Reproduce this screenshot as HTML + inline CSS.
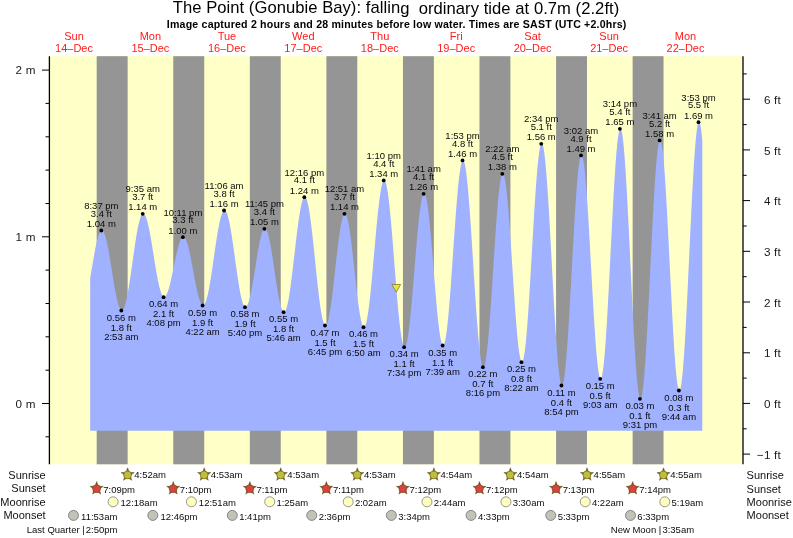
<!DOCTYPE html>
<html lang="en"><head><meta charset="utf-8"><title>The Point (Gonubie Bay) tide chart</title>
<style>
html,body{margin:0;padding:0;background:#fff;}
body{width:793px;height:538px;overflow:hidden;}
svg{display:block;font-family:"Liberation Sans",Arial,Helvetica,sans-serif;}
.t{font-size:16.6px;fill:#000;text-anchor:middle;}
.s{font-size:10.6px;font-weight:bold;fill:#000;text-anchor:middle;}
.d{font-size:11px;fill:#ff1a1a;text-anchor:middle;}
.ax{font-size:11.7px;fill:#1a1a1a;letter-spacing:0.2px;}
.l{font-size:9.5px;fill:#0a0a0a;text-anchor:middle;}
.r{font-size:11px;fill:#111;}
.k{font-size:9.5px;fill:#0c0c0c;}
</style></head><body>
<svg width="793" height="538" viewBox="0 0 793 538">
<rect x="0" y="0" width="793" height="538" fill="#fff"/>
<rect x="50" y="56.2" width="692.5" height="408.1" fill="#ffffc8"/>
<g fill="#959595">
<rect x="96.67" y="56.2" width="30.98" height="408.1"/>
<rect x="173.25" y="56.2" width="30.98" height="408.1"/>
<rect x="249.83" y="56.2" width="30.93" height="408.1"/>
<rect x="326.37" y="56.2" width="30.93" height="408.1"/>
<rect x="402.95" y="56.2" width="30.93" height="408.1"/>
<rect x="479.48" y="56.2" width="30.93" height="408.1"/>
<rect x="556.07" y="56.2" width="30.93" height="408.1"/>
<rect x="632.65" y="56.2" width="30.88" height="408.1"/>
</g>
<path d="M90.18,430.80 L90.18,277.84 90.62,275.35 91.06,272.83 91.49,270.27 91.93,267.70 92.37,265.13 92.81,262.57 93.24,260.02 93.68,257.52 94.12,255.05 94.55,252.65 94.99,250.32 95.43,248.06 95.87,245.91 96.30,243.85 96.74,241.91 97.18,240.09 97.61,238.41 98.05,236.86 98.49,235.47 98.93,234.23 99.36,233.15 99.80,232.23 100.24,231.49 100.68,230.92 101.11,230.53 101.55,230.32 101.99,230.29 102.42,230.45 102.86,230.79 103.30,231.33 103.74,232.04 104.17,232.94 104.61,234.01 105.05,235.26 105.49,236.67 105.92,238.23 106.36,239.95 106.80,241.82 107.23,243.81 107.67,245.94 108.11,248.17 108.55,250.52 108.98,252.95 109.42,255.47 109.86,258.06 110.29,260.70 110.73,263.39 111.17,266.12 111.61,268.86 112.04,271.61 112.48,274.35 112.92,277.08 113.36,279.77 113.79,282.41 114.23,285.00 114.67,287.53 115.10,289.96 115.54,292.31 115.98,294.55 116.42,296.68 116.85,298.68 117.29,300.55 117.73,302.28 118.16,303.85 118.60,305.27 119.04,306.52 119.48,307.60 119.91,308.50 120.35,309.23 120.79,309.77 121.23,310.12 121.66,310.28 122.10,310.26 122.54,310.03 122.97,309.61 123.41,308.99 123.85,308.17 124.29,307.17 124.72,305.98 125.16,304.60 125.60,303.05 126.03,301.33 126.47,299.45 126.91,297.41 127.35,295.22 127.78,292.90 128.22,290.45 128.66,287.88 129.10,285.21 129.53,282.44 129.97,279.58 130.41,276.65 130.84,273.66 131.28,270.63 131.72,267.55 132.16,264.46 132.59,261.35 133.03,258.24 133.47,255.16 133.91,252.09 134.34,249.07 134.78,246.11 135.22,243.21 135.65,240.38 136.09,237.65 136.53,235.01 136.97,232.49 137.40,230.09 137.84,227.82 138.28,225.69 138.71,223.71 139.15,221.89 139.59,220.23 140.03,218.75 140.46,217.45 140.90,216.33 141.34,215.39 141.78,214.66 142.21,214.11 142.65,213.76 143.09,213.62 143.52,213.66 143.96,213.89 144.40,214.30 144.84,214.88 145.27,215.64 145.71,216.57 146.15,217.67 146.58,218.93 147.02,220.34 147.46,221.91 147.90,223.62 148.33,225.47 148.77,227.45 149.21,229.55 149.65,231.76 150.08,234.07 150.52,236.47 150.96,238.96 151.39,241.51 151.83,244.13 152.27,246.79 152.71,249.49 153.14,252.21 153.58,254.95 154.02,257.69 154.45,260.42 154.89,263.13 155.33,265.80 155.77,268.43 156.20,271.00 156.64,273.50 157.08,275.92 157.52,278.26 157.95,280.50 158.39,282.62 158.83,284.63 159.26,286.51 159.70,288.26 160.14,289.86 160.58,291.32 161.01,292.61 161.45,293.75 161.89,294.72 162.33,295.52 162.76,296.15 163.20,296.60 163.64,296.87 164.07,296.96 164.51,296.89 164.95,296.66 165.39,296.28 165.82,295.76 166.26,295.09 166.70,294.27 167.13,293.32 167.57,292.23 168.01,291.02 168.45,289.68 168.88,288.23 169.32,286.67 169.76,285.01 170.20,283.26 170.63,281.43 171.07,279.52 171.51,277.55 171.94,275.53 172.38,273.46 172.82,271.36 173.26,269.24 173.69,267.10 174.13,264.97 174.57,262.84 175.00,260.74 175.44,258.67 175.88,256.64 176.32,254.66 176.75,252.74 177.19,250.90 177.63,249.14 178.07,247.46 178.50,245.89 178.94,244.42 179.38,243.07 179.81,241.84 180.25,240.74 180.69,239.76 181.13,238.93 181.56,238.24 182.00,237.69 182.44,237.29 182.87,237.05 183.31,236.95 183.75,237.01 184.19,237.24 184.62,237.63 185.06,238.18 185.50,238.90 185.94,239.77 186.37,240.79 186.81,241.96 187.25,243.27 187.68,244.71 188.12,246.29 188.56,247.98 189.00,249.79 189.43,251.70 189.87,253.70 190.31,255.79 190.74,257.95 191.18,260.18 191.62,262.46 192.06,264.78 192.49,267.13 192.93,269.51 193.37,271.89 193.81,274.26 194.24,276.62 194.68,278.96 195.12,281.26 195.55,283.50 195.99,285.69 196.43,287.81 196.87,289.84 197.30,291.79 197.74,293.63 198.18,295.37 198.62,296.98 199.05,298.48 199.49,299.84 199.93,301.06 200.36,302.13 200.80,303.06 201.24,303.83 201.68,304.44 202.11,304.89 202.55,305.17 202.99,305.29 203.42,305.24 203.86,304.99 204.30,304.55 204.74,303.92 205.17,303.10 205.61,302.09 206.05,300.91 206.49,299.54 206.92,298.01 207.36,296.31 207.80,294.45 208.23,292.45 208.67,290.30 209.11,288.02 209.55,285.61 209.98,283.09 210.42,280.47 210.86,277.76 211.29,274.96 211.73,272.09 212.17,269.17 212.61,266.20 213.04,263.19 213.48,260.16 213.92,257.12 214.36,254.09 214.79,251.07 215.23,248.07 215.67,245.12 216.10,242.22 216.54,239.38 216.98,236.62 217.42,233.94 217.85,231.36 218.29,228.89 218.73,226.54 219.16,224.32 219.60,222.23 220.04,220.29 220.48,218.50 220.91,216.87 221.35,215.41 221.79,214.13 222.23,213.02 222.66,212.09 223.10,211.36 223.54,210.81 223.97,210.45 224.41,210.29 224.85,210.32 225.29,210.57 225.72,211.01 226.16,211.67 226.60,212.52 227.04,213.58 227.47,214.83 227.91,216.26 228.35,217.88 228.78,219.67 229.22,221.63 229.66,223.75 230.10,226.02 230.53,228.43 230.97,230.97 231.41,233.63 231.84,236.40 232.28,239.26 232.72,242.21 233.16,245.22 233.59,248.30 234.03,251.42 234.47,254.56 234.91,257.73 235.34,260.90 235.78,264.06 236.22,267.20 236.65,270.30 237.09,273.35 237.53,276.34 237.97,279.25 238.40,282.07 238.84,284.79 239.28,287.40 239.71,289.88 240.15,292.23 240.59,294.44 241.03,296.49 241.46,298.38 241.90,300.09 242.34,301.63 242.78,302.99 243.21,304.15 243.65,305.12 244.09,305.89 244.52,306.45 244.96,306.81 245.40,306.96 245.84,306.91 246.27,306.66 246.71,306.21 247.15,305.57 247.58,304.75 248.02,303.74 248.46,302.54 248.90,301.18 249.33,299.64 249.77,297.95 250.21,296.11 250.65,294.12 251.08,292.00 251.52,289.76 251.96,287.41 252.39,284.97 252.83,282.43 253.27,279.83 253.71,277.16 254.14,274.44 254.58,271.69 255.02,268.93 255.46,266.15 255.89,263.39 256.33,260.65 256.77,257.94 257.20,255.28 257.64,252.69 258.08,250.17 258.52,247.73 258.95,245.40 259.39,243.19 259.83,241.09 260.26,239.13 260.70,237.31 261.14,235.65 261.58,234.14 262.01,232.81 262.45,231.65 262.89,230.67 263.33,229.88 263.76,229.27 264.20,228.86 264.64,228.65 265.07,228.63 265.51,228.83 265.95,229.23 266.39,229.85 266.82,230.67 267.26,231.70 267.70,232.92 268.13,234.34 268.57,235.94 269.01,237.71 269.45,239.66 269.88,241.76 270.32,244.00 270.76,246.38 271.20,248.89 271.63,251.50 272.07,254.21 272.51,257.00 272.94,259.86 273.38,262.77 273.82,265.72 274.26,268.70 274.69,271.68 275.13,274.66 275.57,277.61 276.00,280.53 276.44,283.39 276.88,286.19 277.32,288.90 277.75,291.52 278.19,294.03 278.63,296.42 279.07,298.68 279.50,300.79 279.94,302.74 280.38,304.53 280.81,306.14 281.25,307.57 281.69,308.80 282.13,309.84 282.56,310.68 283.00,311.31 283.44,311.73 283.87,311.94 284.31,311.93 284.75,311.67 285.19,311.16 285.62,310.40 286.06,309.40 286.50,308.15 286.94,306.67 287.37,304.96 287.81,303.03 288.25,300.88 288.68,298.53 289.12,295.99 289.56,293.26 290.00,290.37 290.43,287.31 290.87,284.12 291.31,280.79 291.75,277.34 292.18,273.80 292.62,270.17 293.06,266.47 293.49,262.72 293.93,258.94 294.37,255.13 294.81,251.32 295.24,247.52 295.68,243.76 296.12,240.04 296.55,236.38 296.99,232.81 297.43,229.33 297.87,225.96 298.30,222.71 298.74,219.60 299.18,216.65 299.62,213.86 300.05,211.25 300.49,208.84 300.93,206.62 301.36,204.61 301.80,202.82 302.24,201.25 302.68,199.92 303.11,198.83 303.55,197.99 303.99,197.39 304.42,197.04 304.86,196.94 305.30,197.12 305.74,197.58 306.17,198.32 306.61,199.33 307.05,200.62 307.49,202.17 307.92,203.99 308.36,206.06 308.80,208.37 309.23,210.91 309.67,213.68 310.11,216.65 310.55,219.82 310.98,223.17 311.42,226.69 311.86,230.36 312.29,234.17 312.73,238.10 313.17,242.13 313.61,246.24 314.04,250.42 314.48,254.64 314.92,258.90 315.36,263.16 315.79,267.41 316.23,271.64 316.67,275.82 317.10,279.94 317.54,283.97 317.98,287.90 318.42,291.71 318.85,295.39 319.29,298.92 319.73,302.28 320.17,305.46 320.60,308.44 321.04,311.21 321.48,313.77 321.91,316.09 322.35,318.17 322.79,319.99 323.23,321.56 323.66,322.86 324.10,323.89 324.54,324.64 324.97,325.11 325.41,325.30 325.85,325.20 326.29,324.83 326.72,324.19 327.16,323.26 327.60,322.08 328.04,320.63 328.47,318.92 328.91,316.97 329.35,314.78 329.78,312.36 330.22,309.73 330.66,306.91 331.10,303.89 331.53,300.70 331.97,297.36 332.41,293.87 332.84,290.27 333.28,286.56 333.72,282.77 334.16,278.91 334.59,275.00 335.03,271.07 335.47,267.12 335.91,263.19 336.34,259.29 336.78,255.44 337.22,251.67 337.65,247.97 338.09,244.39 338.53,240.93 338.97,237.62 339.40,234.46 339.84,231.48 340.28,228.68 340.71,226.09 341.15,223.72 341.59,221.57 342.03,219.66 342.46,218.00 342.90,216.60 343.34,215.46 343.78,214.59 344.21,213.99 344.65,213.67 345.09,213.63 345.52,213.88 345.96,214.42 346.40,215.25 346.84,216.37 347.27,217.76 347.71,219.43 348.15,221.36 348.58,223.54 349.02,225.97 349.46,228.62 349.90,231.50 350.33,234.57 350.77,237.83 351.21,241.25 351.65,244.83 352.08,248.54 352.52,252.36 352.96,256.27 353.39,260.26 353.83,264.30 354.27,268.37 354.71,272.45 355.14,276.51 355.58,280.55 356.02,284.53 356.46,288.44 356.89,292.26 357.33,295.96 357.77,299.53 358.20,302.94 358.64,306.19 359.08,309.25 359.52,312.11 359.95,314.76 360.39,317.17 360.83,319.34 361.26,321.26 361.70,322.91 362.14,324.29 362.58,325.39 363.01,326.20 363.45,326.72 363.89,326.96 364.33,326.88 364.76,326.47 365.20,325.73 365.64,324.65 366.07,323.24 366.51,321.51 366.95,319.46 367.39,317.11 367.82,314.47 368.26,311.55 368.70,308.35 369.13,304.91 369.57,301.23 370.01,297.33 370.45,293.22 370.88,288.93 371.32,284.48 371.76,279.89 372.20,275.17 372.63,270.36 373.07,265.47 373.51,260.52 373.94,255.54 374.38,250.55 374.82,245.58 375.26,240.64 375.69,235.77 376.13,230.97 376.57,226.29 377.00,221.72 377.44,217.31 377.88,213.06 378.32,209.00 378.75,205.15 379.19,201.52 379.63,198.13 380.07,195.00 380.50,192.14 380.94,189.56 381.38,187.28 381.81,185.31 382.25,183.65 382.69,182.32 383.13,181.31 383.56,180.64 384.00,180.31 384.44,180.32 384.88,180.71 385.31,181.47 385.75,182.60 386.19,184.10 386.62,185.96 387.06,188.17 387.50,190.72 387.94,193.60 388.37,196.80 388.81,200.31 389.25,204.09 389.68,208.15 390.12,212.46 390.56,217.00 391.00,221.76 391.43,226.70 391.87,231.81 392.31,237.06 392.75,242.44 393.18,247.90 393.62,253.45 394.06,259.03 394.49,264.64 394.93,270.24 395.37,275.82 395.81,281.33 396.24,286.77 396.68,292.10 397.12,297.31 397.55,302.36 397.99,307.23 398.43,311.91 398.87,316.37 399.30,320.59 399.74,324.56 400.18,328.24 400.62,331.64 401.05,334.72 401.49,337.49 401.93,339.92 402.36,342.00 402.80,343.73 403.24,345.10 403.68,346.10 404.11,346.72 404.55,346.97 404.99,346.84 405.42,346.33 405.86,345.44 406.30,344.18 406.74,342.55 407.17,340.57 407.61,338.24 408.05,335.57 408.49,332.58 408.92,329.27 409.36,325.68 409.80,321.81 410.23,317.69 410.67,313.33 411.11,308.76 411.55,303.99 411.98,299.06 412.42,293.99 412.86,288.80 413.30,283.52 413.73,278.17 414.17,272.78 414.61,267.38 415.04,262.00 415.48,256.66 415.92,251.38 416.36,246.20 416.79,241.13 417.23,236.22 417.67,231.47 418.10,226.91 418.54,222.57 418.98,218.46 419.42,214.61 419.85,211.04 420.29,207.76 420.73,204.80 421.17,202.15 421.60,199.85 422.04,197.89 422.48,196.29 422.91,195.06 423.35,194.20 423.79,193.72 424.23,193.62 424.66,193.91 425.10,194.59 425.54,195.66 425.97,197.12 426.41,198.96 426.85,201.16 427.29,203.72 427.72,206.62 428.16,209.84 428.60,213.38 429.04,217.21 429.47,221.31 429.91,225.67 430.35,230.25 430.78,235.03 431.22,240.00 431.66,245.12 432.10,250.36 432.53,255.71 432.97,261.12 433.41,266.58 433.84,272.06 434.28,277.52 434.72,282.94 435.16,288.29 435.59,293.54 436.03,298.66 436.47,303.64 436.91,308.43 437.34,313.02 437.78,317.39 438.22,321.50 438.65,325.35 439.09,328.90 439.53,332.14 439.97,335.06 440.40,337.64 440.84,339.86 441.28,341.71 441.71,343.18 442.15,344.28 442.59,344.98 443.03,345.29 443.46,345.19 443.90,344.65 444.34,343.68 444.78,342.27 445.21,340.43 445.65,338.18 446.09,335.51 446.52,332.46 446.96,329.02 447.40,325.22 447.84,321.07 448.27,316.60 448.71,311.82 449.15,306.76 449.59,301.44 450.02,295.89 450.46,290.14 450.90,284.20 451.33,278.12 451.77,271.91 452.21,265.62 452.65,259.26 453.08,252.87 453.52,246.48 453.96,240.12 454.39,233.83 454.83,227.62 455.27,221.53 455.71,215.59 456.14,209.83 456.58,204.28 457.02,198.95 457.46,193.88 457.89,189.10 458.33,184.62 458.77,180.46 459.20,176.65 459.64,173.20 460.08,170.13 460.52,167.46 460.95,165.19 461.39,163.35 461.83,161.93 462.26,160.94 462.70,160.39 463.14,160.28 463.58,160.64 464.01,161.46 464.45,162.75 464.89,164.50 465.33,166.70 465.76,169.34 466.20,172.41 466.64,175.90 467.07,179.78 467.51,184.05 467.95,188.68 468.39,193.65 468.82,198.94 469.26,204.52 469.70,210.37 470.13,216.47 470.57,222.77 471.01,229.27 471.45,235.92 471.88,242.70 472.32,249.57 472.76,256.51 473.20,263.48 473.63,270.44 474.07,277.38 474.51,284.26 474.94,291.04 475.38,297.70 475.82,304.20 476.26,310.52 476.69,316.62 477.13,322.48 477.57,328.08 478.01,333.38 478.44,338.36 478.88,343.01 479.32,347.29 479.75,351.19 480.19,354.69 480.63,357.78 481.07,360.44 481.50,362.66 481.94,364.43 482.38,365.74 482.81,366.58 483.25,366.96 483.69,366.86 484.13,366.28 484.56,365.22 485.00,363.69 485.44,361.70 485.88,359.24 486.31,356.35 486.75,353.03 487.19,349.29 487.62,345.16 488.06,340.66 488.50,335.80 488.94,330.62 489.37,325.14 489.81,319.39 490.25,313.39 490.68,307.17 491.12,300.78 491.56,294.23 492.00,287.56 492.43,280.80 492.87,273.99 493.31,267.17 493.75,260.36 494.18,253.60 494.62,246.92 495.06,240.36 495.49,233.95 495.93,227.71 496.37,221.70 496.81,215.92 497.24,210.41 497.68,205.21 498.12,200.32 498.55,195.79 498.99,191.63 499.43,187.86 499.87,184.50 500.30,181.57 500.74,179.08 501.18,177.04 501.62,175.47 502.05,174.37 502.49,173.75 502.93,173.62 503.36,173.96 503.80,174.79 504.24,176.10 504.68,177.88 505.11,180.12 505.55,182.82 505.99,185.95 506.43,189.51 506.86,193.47 507.30,197.81 507.74,202.51 508.17,207.55 508.61,212.90 509.05,218.53 509.49,224.41 509.92,230.52 510.36,236.82 510.80,243.28 511.23,249.87 511.67,256.55 512.11,263.28 512.55,270.04 512.98,276.79 513.42,283.49 513.86,290.12 514.30,296.62 514.73,302.98 515.17,309.16 515.61,315.12 516.04,320.84 516.48,326.28 516.92,331.43 517.36,336.24 517.79,340.71 518.23,344.80 518.67,348.49 519.10,351.76 519.54,354.61 519.98,357.00 520.42,358.94 520.85,360.41 521.29,361.40 521.73,361.90 522.17,361.92 522.60,361.42 523.04,360.39 523.48,358.85 523.91,356.79 524.35,354.23 524.79,351.18 525.23,347.66 525.66,343.68 526.10,339.26 526.54,334.42 526.97,329.19 527.41,323.59 527.85,317.65 528.29,311.39 528.72,304.86 529.16,298.07 529.60,291.06 530.04,283.87 530.47,276.53 530.91,269.07 531.35,261.54 531.78,253.96 532.22,246.38 532.66,238.83 533.10,231.34 533.53,223.96 533.97,216.72 534.41,209.65 534.84,202.79 535.28,196.18 535.72,189.83 536.16,183.79 536.59,178.08 537.03,172.73 537.47,167.77 537.91,163.22 538.34,159.10 538.78,155.43 539.22,152.24 539.65,149.52 540.09,147.31 540.53,145.60 540.97,144.42 541.40,143.75 541.84,143.61 542.28,144.02 542.72,144.99 543.15,146.51 543.59,148.58 544.03,151.18 544.46,154.31 544.90,157.94 545.34,162.07 545.78,166.67 546.21,171.72 546.65,177.21 547.09,183.09 547.52,189.35 547.96,195.96 548.40,202.89 548.84,210.10 549.27,217.56 549.71,225.24 550.15,233.10 550.59,241.10 551.02,249.22 551.46,257.40 551.90,265.62 552.33,273.83 552.77,281.99 553.21,290.08 553.65,298.05 554.08,305.86 554.52,313.48 554.96,320.88 555.39,328.01 555.83,334.85 556.27,341.36 556.71,347.52 557.14,353.29 557.58,358.66 558.02,363.59 558.46,368.05 558.89,372.05 559.33,375.54 559.77,378.52 560.20,380.97 560.64,382.88 561.08,384.25 561.52,385.06 561.95,385.31 562.39,385.00 562.83,384.13 563.26,382.69 563.70,380.70 564.14,378.17 564.58,375.10 565.01,371.51 565.45,367.43 565.89,362.87 566.33,357.85 566.76,352.40 567.20,346.55 567.64,340.32 568.07,333.74 568.51,326.85 568.95,319.68 569.39,312.27 569.82,304.65 570.26,296.87 570.70,288.95 571.14,280.94 571.57,272.87 572.01,264.80 572.45,256.75 572.88,248.77 573.32,240.89 573.76,233.16 574.20,225.61 574.63,218.28 575.07,211.21 575.51,204.43 575.94,197.98 576.38,191.88 576.82,186.17 577.26,180.87 577.69,176.01 578.13,171.62 578.57,167.72 579.01,164.32 579.44,161.44 579.88,159.10 580.32,157.31 580.75,156.07 581.19,155.40 581.63,155.30 582.07,155.76 582.50,156.80 582.94,158.40 583.38,160.55 583.81,163.25 584.25,166.49 584.69,170.23 585.13,174.48 585.56,179.19 586.00,184.36 586.44,189.95 586.88,195.93 587.31,202.28 587.75,208.96 588.19,215.94 588.62,223.18 589.06,230.64 589.50,238.29 589.94,246.08 590.37,253.98 590.81,261.95 591.25,269.95 591.68,277.93 592.12,285.85 592.56,293.68 593.00,301.36 593.43,308.88 593.87,316.17 594.31,323.22 594.75,329.98 595.18,336.41 595.62,342.49 596.06,348.18 596.49,353.46 596.93,358.29 597.37,362.66 597.81,366.53 598.24,369.89 598.68,372.73 599.12,375.02 599.56,376.77 599.99,377.94 600.43,378.55 600.87,378.59 601.30,378.02 601.74,376.85 602.18,375.08 602.62,372.73 603.05,369.79 603.49,366.30 603.93,362.25 604.36,357.68 604.80,352.60 605.24,347.05 605.68,341.04 606.11,334.60 606.55,327.78 606.99,320.59 607.43,313.08 607.86,305.28 608.30,297.23 608.74,288.97 609.17,280.53 609.61,271.97 610.05,263.32 610.49,254.62 610.92,245.91 611.36,237.24 611.80,228.65 612.23,220.19 612.67,211.88 613.11,203.78 613.55,195.92 613.98,188.34 614.42,181.08 614.86,174.16 615.30,167.64 615.73,161.53 616.17,155.87 616.61,150.68 617.04,145.99 617.48,141.82 617.92,138.20 618.36,135.13 618.79,132.64 619.23,130.74 619.67,129.43 620.10,128.73 620.54,128.63 620.98,129.16 621.42,130.33 621.85,132.11 622.29,134.52 622.73,137.53 623.17,141.14 623.60,145.32 624.04,150.06 624.48,155.33 624.91,161.11 625.35,167.37 625.79,174.08 626.23,181.22 626.66,188.74 627.10,196.61 627.54,204.80 627.97,213.26 628.41,221.96 628.85,230.86 629.29,239.91 629.72,249.07 630.16,258.30 630.60,267.55 631.04,276.79 631.47,285.97 631.91,295.04 632.35,303.96 632.78,312.69 633.22,321.19 633.66,329.42 634.10,337.35 634.53,344.92 634.97,352.12 635.41,358.89 635.85,365.22 636.28,371.08 636.72,376.43 637.16,381.25 637.59,385.51 638.03,389.21 638.47,392.31 638.91,394.81 639.34,396.69 639.78,397.95 640.22,398.57 640.65,398.57 641.09,397.93 641.53,396.67 641.97,394.78 642.40,392.28 642.84,389.19 643.28,385.51 643.72,381.27 644.15,376.48 644.59,371.16 645.03,365.36 645.46,359.08 645.90,352.37 646.34,345.25 646.78,337.76 647.21,329.94 647.65,321.83 648.09,313.46 648.52,304.87 648.96,296.11 649.40,287.23 649.84,278.25 650.27,269.23 650.71,260.22 651.15,251.24 651.59,242.36 652.02,233.61 652.46,225.04 652.90,216.68 653.33,208.58 653.77,200.77 654.21,193.30 654.65,186.20 655.08,179.51 655.52,173.26 655.96,167.47 656.39,162.19 656.83,157.42 657.27,153.21 657.71,149.56 658.14,146.49 658.58,144.02 659.02,142.17 659.46,140.94 659.89,140.33 660.33,140.36 660.77,141.01 661.20,142.30 661.64,144.21 662.08,146.73 662.52,149.86 662.95,153.57 663.39,157.84 663.83,162.66 664.27,168.00 664.70,173.83 665.14,180.13 665.58,186.86 666.01,193.98 666.45,201.47 666.89,209.28 667.33,217.37 667.76,225.71 668.20,234.24 668.64,242.94 669.07,251.75 669.51,260.62 669.95,269.52 670.39,278.40 670.82,287.21 671.26,295.91 671.70,304.46 672.14,312.81 672.57,320.91 673.01,328.74 673.45,336.24 673.88,343.38 674.32,350.13 674.76,356.45 675.20,362.31 675.63,367.67 676.07,372.51 676.51,376.82 676.94,380.55 677.38,383.71 677.82,386.26 678.26,388.20 678.69,389.52 679.13,390.21 679.57,390.26 680.01,389.66 680.44,388.40 680.88,386.50 681.32,383.95 681.75,380.78 682.19,377.00 682.63,372.62 683.07,367.68 683.50,362.19 683.94,356.17 684.38,349.67 684.81,342.71 685.25,335.32 685.69,327.54 686.13,319.42 686.56,310.98 687.00,302.27 687.44,293.34 687.88,284.23 688.31,274.98 688.75,265.63 689.19,256.24 689.62,246.85 690.06,237.50 690.50,228.25 690.94,219.13 691.37,210.19 691.81,201.48 692.25,193.04 692.69,184.90 693.12,177.12 693.56,169.72 694.00,162.75 694.43,156.23 694.87,150.20 695.31,144.70 695.75,139.74 696.18,135.35 696.62,131.55 697.06,128.36 697.49,125.80 697.93,123.88 698.37,122.61 698.81,121.99 699.24,122.03 699.68,122.73 700.12,124.08 700.56,126.09 700.99,128.73 701.43,132.00 701.87,135.88 702.30,140.36 L702.30,430.80 Z" fill="#9fb1ff"/>
<g stroke="#000" stroke-width="1.3">
<line x1="49.4" y1="56.2" x2="49.4" y2="464.3"/>
<line x1="743.0" y1="56.2" x2="743.0" y2="464.3"/>
</g>
<g stroke="#000" stroke-width="1">
<line x1="45.5" y1="436.8" x2="49" y2="436.8"/>
<line x1="42.0" y1="403.5" x2="49" y2="403.5"/>
<line x1="45.5" y1="370.2" x2="49" y2="370.2"/>
<line x1="45.5" y1="336.8" x2="49" y2="336.8"/>
<line x1="45.5" y1="303.5" x2="49" y2="303.5"/>
<line x1="45.5" y1="270.1" x2="49" y2="270.1"/>
<line x1="42.0" y1="236.8" x2="49" y2="236.8"/>
<line x1="45.5" y1="203.5" x2="49" y2="203.5"/>
<line x1="45.5" y1="170.1" x2="49" y2="170.1"/>
<line x1="45.5" y1="136.8" x2="49" y2="136.8"/>
<line x1="45.5" y1="103.4" x2="49" y2="103.4"/>
<line x1="42.0" y1="70.1" x2="49" y2="70.1"/>
<line x1="743" y1="454.1" x2="750.0" y2="454.1"/>
<line x1="743" y1="428.8" x2="746.7" y2="428.8"/>
<line x1="743" y1="403.4" x2="750.0" y2="403.4"/>
<line x1="743" y1="378.1" x2="746.7" y2="378.1"/>
<line x1="743" y1="352.8" x2="750.0" y2="352.8"/>
<line x1="743" y1="327.4" x2="746.7" y2="327.4"/>
<line x1="743" y1="302.0" x2="750.0" y2="302.0"/>
<line x1="743" y1="276.7" x2="746.7" y2="276.7"/>
<line x1="743" y1="251.3" x2="750.0" y2="251.3"/>
<line x1="743" y1="226.0" x2="746.7" y2="226.0"/>
<line x1="743" y1="200.6" x2="750.0" y2="200.6"/>
<line x1="743" y1="175.3" x2="746.7" y2="175.3"/>
<line x1="743" y1="149.9" x2="750.0" y2="149.9"/>
<line x1="743" y1="124.6" x2="746.7" y2="124.6"/>
<line x1="743" y1="99.2" x2="750.0" y2="99.2"/>
<line x1="743" y1="73.9" x2="746.7" y2="73.9"/>
</g>
<text class="ax" x="15.5" y="407.8">0 m</text>
<text class="ax" x="15.5" y="241.1">1 m</text>
<text class="ax" x="15.5" y="74.4">2 m</text>
<text class="ax" x="781" y="458.8" text-anchor="end">−1 ft</text>
<text class="ax" x="781" y="408.1" text-anchor="end">0 ft</text>
<text class="ax" x="781" y="357.4" text-anchor="end">1 ft</text>
<text class="ax" x="781" y="306.6" text-anchor="end">2 ft</text>
<text class="ax" x="781" y="255.9" text-anchor="end">3 ft</text>
<text class="ax" x="781" y="205.2" text-anchor="end">4 ft</text>
<text class="ax" x="781" y="154.5" text-anchor="end">5 ft</text>
<text class="ax" x="781" y="103.8" text-anchor="end">6 ft</text>
<text class="t" transform="matrix(1 0.0004 0 1 396 13.5)" textLength="446.5" lengthAdjust="spacing" xml:space="preserve">The Point (Gonubie Bay): falling  ordinary tide at 0.7m (2.2ft)</text>
<text class="s" transform="matrix(1 0.0004 0 1 396.6 27.6)" textLength="459.5" lengthAdjust="spacing">Image captured 2 hours and 28 minutes before low water. Times are SAST (UTC +2.0hrs)</text>
<text class="d" x="74.0" y="39.7">Sun</text>
<text class="d" x="74.0" y="51.7">14–Dec</text>
<text class="d" x="150.4" y="39.7">Mon</text>
<text class="d" x="150.4" y="51.7">15–Dec</text>
<text class="d" x="226.9" y="39.7">Tue</text>
<text class="d" x="226.9" y="51.7">16–Dec</text>
<text class="d" x="303.3" y="39.7">Wed</text>
<text class="d" x="303.3" y="51.7">17–Dec</text>
<text class="d" x="379.8" y="39.7">Thu</text>
<text class="d" x="379.8" y="51.7">18–Dec</text>
<text class="d" x="456.2" y="39.7">Fri</text>
<text class="d" x="456.2" y="51.7">19–Dec</text>
<text class="d" x="532.6" y="39.7">Sat</text>
<text class="d" x="532.6" y="51.7">20–Dec</text>
<text class="d" x="609.1" y="39.7">Sun</text>
<text class="d" x="609.1" y="51.7">21–Dec</text>
<text class="d" x="685.5" y="39.7">Mon</text>
<text class="d" x="685.5" y="51.7">22–Dec</text>
<circle cx="101.34" cy="230.48" r="1.9" fill="#000"/>
<text class="l" transform="matrix(1 0.0004 0 1 101.34 226.93)">1.04 m</text>
<text class="l" transform="matrix(1 0.0004 0 1 101.34 216.73)">3.4 ft</text>
<text class="l" transform="matrix(1 0.0004 0 1 101.34 208.93)">8:37 pm</text>
<circle cx="121.33" cy="310.50" r="1.9" fill="#000"/>
<text class="l" transform="matrix(1 0.0004 0 1 121.33 320.80)">0.56 m</text>
<text class="l" transform="matrix(1 0.0004 0 1 121.33 330.80)">1.8 ft</text>
<text class="l" transform="matrix(1 0.0004 0 1 121.33 339.80)">2:53 am</text>
<circle cx="142.69" cy="213.81" r="1.9" fill="#000"/>
<text class="l" transform="matrix(1 0.0004 0 1 142.69 210.26)">1.14 m</text>
<text class="l" transform="matrix(1 0.0004 0 1 142.69 200.06)">3.7 ft</text>
<text class="l" transform="matrix(1 0.0004 0 1 142.69 192.26)">9:35 am</text>
<circle cx="163.58" cy="297.16" r="1.9" fill="#000"/>
<text class="l" transform="matrix(1 0.0004 0 1 163.58 307.46)">0.64 m</text>
<text class="l" transform="matrix(1 0.0004 0 1 163.58 317.46)">2.1 ft</text>
<text class="l" transform="matrix(1 0.0004 0 1 163.58 326.46)">4:08 pm</text>
<circle cx="182.87" cy="237.15" r="1.9" fill="#000"/>
<text class="l" transform="matrix(1 0.0004 0 1 182.87 233.60)">1.00 m</text>
<text class="l" transform="matrix(1 0.0004 0 1 182.87 223.40)">3.3 ft</text>
<text class="l" transform="matrix(1 0.0004 0 1 182.87 215.60)">10:11 pm</text>
<circle cx="202.59" cy="305.50" r="1.9" fill="#000"/>
<text class="l" transform="matrix(1 0.0004 0 1 202.59 315.80)">0.59 m</text>
<text class="l" transform="matrix(1 0.0004 0 1 202.59 325.80)">1.9 ft</text>
<text class="l" transform="matrix(1 0.0004 0 1 202.59 334.80)">4:22 am</text>
<circle cx="224.06" cy="210.48" r="1.9" fill="#000"/>
<text class="l" transform="matrix(1 0.0004 0 1 224.06 206.93)">1.16 m</text>
<text class="l" transform="matrix(1 0.0004 0 1 224.06 196.73)">3.8 ft</text>
<text class="l" transform="matrix(1 0.0004 0 1 224.06 188.93)">11:06 am</text>
<circle cx="245.00" cy="307.16" r="1.9" fill="#000"/>
<text class="l" transform="matrix(1 0.0004 0 1 245.00 317.46)">0.58 m</text>
<text class="l" transform="matrix(1 0.0004 0 1 245.00 327.46)">1.9 ft</text>
<text class="l" transform="matrix(1 0.0004 0 1 245.00 336.46)">5:40 pm</text>
<circle cx="264.40" cy="228.81" r="1.9" fill="#000"/>
<text class="l" transform="matrix(1 0.0004 0 1 264.40 225.26)">1.05 m</text>
<text class="l" transform="matrix(1 0.0004 0 1 264.40 215.06)">3.4 ft</text>
<text class="l" transform="matrix(1 0.0004 0 1 264.40 207.26)">11:45 pm</text>
<circle cx="283.58" cy="312.17" r="1.9" fill="#000"/>
<text class="l" transform="matrix(1 0.0004 0 1 283.58 322.47)">0.55 m</text>
<text class="l" transform="matrix(1 0.0004 0 1 283.58 332.47)">1.8 ft</text>
<text class="l" transform="matrix(1 0.0004 0 1 283.58 341.47)">5:46 am</text>
<circle cx="304.31" cy="197.14" r="1.9" fill="#000"/>
<text class="l" transform="matrix(1 0.0004 0 1 304.31 193.59)">1.24 m</text>
<text class="l" transform="matrix(1 0.0004 0 1 304.31 183.39)">4.1 ft</text>
<text class="l" transform="matrix(1 0.0004 0 1 304.31 175.59)">12:16 pm</text>
<circle cx="324.98" cy="325.50" r="1.9" fill="#000"/>
<text class="l" transform="matrix(1 0.0004 0 1 324.98 335.80)">0.47 m</text>
<text class="l" transform="matrix(1 0.0004 0 1 324.98 345.80)">1.5 ft</text>
<text class="l" transform="matrix(1 0.0004 0 1 324.98 354.80)">6:45 pm</text>
<circle cx="344.44" cy="213.81" r="1.9" fill="#000"/>
<text class="l" transform="matrix(1 0.0004 0 1 344.44 210.26)">1.14 m</text>
<text class="l" transform="matrix(1 0.0004 0 1 344.44 200.06)">3.7 ft</text>
<text class="l" transform="matrix(1 0.0004 0 1 344.44 192.26)">12:51 am</text>
<circle cx="363.51" cy="327.17" r="1.9" fill="#000"/>
<text class="l" transform="matrix(1 0.0004 0 1 363.51 337.47)">0.46 m</text>
<text class="l" transform="matrix(1 0.0004 0 1 363.51 347.47)">1.5 ft</text>
<text class="l" transform="matrix(1 0.0004 0 1 363.51 356.47)">6:50 am</text>
<circle cx="383.71" cy="180.47" r="1.9" fill="#000"/>
<text class="l" transform="matrix(1 0.0004 0 1 383.71 176.92)">1.34 m</text>
<text class="l" transform="matrix(1 0.0004 0 1 383.71 166.72)">4.4 ft</text>
<text class="l" transform="matrix(1 0.0004 0 1 383.71 158.92)">1:10 pm</text>
<circle cx="404.12" cy="347.17" r="1.9" fill="#000"/>
<text class="l" transform="matrix(1 0.0004 0 1 404.12 357.47)">0.34 m</text>
<text class="l" transform="matrix(1 0.0004 0 1 404.12 367.47)">1.1 ft</text>
<text class="l" transform="matrix(1 0.0004 0 1 404.12 376.47)">7:34 pm</text>
<circle cx="423.62" cy="193.81" r="1.9" fill="#000"/>
<text class="l" transform="matrix(1 0.0004 0 1 423.62 190.26)">1.26 m</text>
<text class="l" transform="matrix(1 0.0004 0 1 423.62 180.06)">4.1 ft</text>
<text class="l" transform="matrix(1 0.0004 0 1 423.62 172.26)">1:41 am</text>
<circle cx="442.65" cy="345.51" r="1.9" fill="#000"/>
<text class="l" transform="matrix(1 0.0004 0 1 442.65 355.81)">0.35 m</text>
<text class="l" transform="matrix(1 0.0004 0 1 442.65 365.81)">1.1 ft</text>
<text class="l" transform="matrix(1 0.0004 0 1 442.65 374.81)">7:39 am</text>
<circle cx="462.53" cy="160.47" r="1.9" fill="#000"/>
<text class="l" transform="matrix(1 0.0004 0 1 462.53 156.92)">1.46 m</text>
<text class="l" transform="matrix(1 0.0004 0 1 462.53 146.72)">4.8 ft</text>
<text class="l" transform="matrix(1 0.0004 0 1 462.53 138.92)">1:53 pm</text>
<circle cx="482.88" cy="367.18" r="1.9" fill="#000"/>
<text class="l" transform="matrix(1 0.0004 0 1 482.88 377.48)">0.22 m</text>
<text class="l" transform="matrix(1 0.0004 0 1 482.88 387.48)">0.7 ft</text>
<text class="l" transform="matrix(1 0.0004 0 1 482.88 396.48)">8:16 pm</text>
<circle cx="502.33" cy="173.80" r="1.9" fill="#000"/>
<text class="l" transform="matrix(1 0.0004 0 1 502.33 170.25)">1.38 m</text>
<text class="l" transform="matrix(1 0.0004 0 1 502.33 160.05)">4.5 ft</text>
<text class="l" transform="matrix(1 0.0004 0 1 502.33 152.25)">2:22 am</text>
<circle cx="521.47" cy="362.18" r="1.9" fill="#000"/>
<text class="l" transform="matrix(1 0.0004 0 1 521.47 372.48)">0.25 m</text>
<text class="l" transform="matrix(1 0.0004 0 1 521.47 382.48)">0.8 ft</text>
<text class="l" transform="matrix(1 0.0004 0 1 521.47 391.48)">8:22 am</text>
<circle cx="541.24" cy="143.80" r="1.9" fill="#000"/>
<text class="l" transform="matrix(1 0.0004 0 1 541.24 140.25)">1.56 m</text>
<text class="l" transform="matrix(1 0.0004 0 1 541.24 130.05)">5.1 ft</text>
<text class="l" transform="matrix(1 0.0004 0 1 541.24 122.25)">2:34 pm</text>
<circle cx="561.43" cy="385.51" r="1.9" fill="#000"/>
<text class="l" transform="matrix(1 0.0004 0 1 561.43 395.81)">0.11 m</text>
<text class="l" transform="matrix(1 0.0004 0 1 561.43 405.81)">0.4 ft</text>
<text class="l" transform="matrix(1 0.0004 0 1 561.43 414.81)">8:54 pm</text>
<circle cx="580.99" cy="155.47" r="1.9" fill="#000"/>
<text class="l" transform="matrix(1 0.0004 0 1 580.99 151.92)">1.49 m</text>
<text class="l" transform="matrix(1 0.0004 0 1 580.99 141.72)">4.9 ft</text>
<text class="l" transform="matrix(1 0.0004 0 1 580.99 133.92)">3:02 am</text>
<circle cx="600.18" cy="378.85" r="1.9" fill="#000"/>
<text class="l" transform="matrix(1 0.0004 0 1 600.18 389.15)">0.15 m</text>
<text class="l" transform="matrix(1 0.0004 0 1 600.18 399.15)">0.5 ft</text>
<text class="l" transform="matrix(1 0.0004 0 1 600.18 408.15)">9:03 am</text>
<circle cx="619.89" cy="128.80" r="1.9" fill="#000"/>
<text class="l" transform="matrix(1 0.0004 0 1 619.89 125.25)">1.65 m</text>
<text class="l" transform="matrix(1 0.0004 0 1 619.89 115.05)">5.4 ft</text>
<text class="l" transform="matrix(1 0.0004 0 1 619.89 107.25)">3:14 pm</text>
<circle cx="639.93" cy="398.85" r="1.9" fill="#000"/>
<text class="l" transform="matrix(1 0.0004 0 1 639.93 409.15)">0.03 m</text>
<text class="l" transform="matrix(1 0.0004 0 1 639.93 419.15)">0.1 ft</text>
<text class="l" transform="matrix(1 0.0004 0 1 639.93 428.15)">9:31 pm</text>
<circle cx="659.60" cy="140.46" r="1.9" fill="#000"/>
<text class="l" transform="matrix(1 0.0004 0 1 659.60 136.91)">1.58 m</text>
<text class="l" transform="matrix(1 0.0004 0 1 659.60 126.71)">5.2 ft</text>
<text class="l" transform="matrix(1 0.0004 0 1 659.60 118.91)">3:41 am</text>
<circle cx="678.89" cy="390.51" r="1.9" fill="#000"/>
<text class="l" transform="matrix(1 0.0004 0 1 678.89 400.81)">0.08 m</text>
<text class="l" transform="matrix(1 0.0004 0 1 678.89 410.81)">0.3 ft</text>
<text class="l" transform="matrix(1 0.0004 0 1 678.89 419.81)">9:44 am</text>
<circle cx="698.50" cy="122.13" r="1.9" fill="#000"/>
<text class="l" transform="matrix(1 0.0004 0 1 698.50 118.58)">1.69 m</text>
<text class="l" transform="matrix(1 0.0004 0 1 698.50 108.38)">5.5 ft</text>
<text class="l" transform="matrix(1 0.0004 0 1 698.50 100.58)">3:53 pm</text>
<path d="M396.25,292.1 l-4.4,-7.6 h8.8 z" fill="#e6e63c" stroke="#8a7a30" stroke-width="0.8"/>
<text class="r" transform="matrix(1 0.0004 0 1 45.6 478.90)" text-anchor="end">Sunrise</text>
<text class="r" transform="matrix(1 0.0004 0 1 746.6 478.90)">Sunrise</text>
<text class="r" transform="matrix(1 0.0004 0 1 45.6 492.50)" text-anchor="end">Sunset</text>
<text class="r" transform="matrix(1 0.0004 0 1 746.6 492.50)">Sunset</text>
<text class="r" transform="matrix(1 0.0004 0 1 45.6 505.80)" text-anchor="end">Moonrise</text>
<text class="r" transform="matrix(1 0.0004 0 1 746.6 505.80)">Moonrise</text>
<text class="r" transform="matrix(1 0.0004 0 1 45.6 519.40)" text-anchor="end">Moonset</text>
<text class="r" transform="matrix(1 0.0004 0 1 746.6 519.40)">Moonset</text>
<polygon points="127.65,467.80 129.24,472.52 134.21,472.57 130.22,475.53 131.71,480.28 127.65,477.40 123.59,480.28 125.08,475.53 121.09,472.57 126.06,472.52" fill="#74641a" stroke="#655310" stroke-width="0.5" stroke-linejoin="miter"/><circle cx="127.55" cy="474.90" r="3.95" fill="#bebe3e" stroke="#655310" stroke-width="0.6"/>
<text class="k" transform="matrix(1 0.0004 0 1 134.25 477.80)">4:52am</text>
<polygon points="204.23,467.80 205.82,472.52 210.80,472.57 206.80,475.53 208.29,480.28 204.23,477.40 200.18,480.28 201.67,475.53 197.67,472.57 202.65,472.52" fill="#74641a" stroke="#655310" stroke-width="0.5" stroke-linejoin="miter"/><circle cx="204.13" cy="474.90" r="3.95" fill="#bebe3e" stroke="#655310" stroke-width="0.6"/>
<text class="k" transform="matrix(1 0.0004 0 1 210.83 477.80)">4:53am</text>
<polygon points="280.77,467.80 282.35,472.52 287.33,472.57 283.33,475.53 284.82,480.28 280.77,477.40 276.71,480.28 278.20,475.53 274.20,472.57 279.18,472.52" fill="#74641a" stroke="#655310" stroke-width="0.5" stroke-linejoin="miter"/><circle cx="280.67" cy="474.90" r="3.95" fill="#bebe3e" stroke="#655310" stroke-width="0.6"/>
<text class="k" transform="matrix(1 0.0004 0 1 287.37 477.80)">4:53am</text>
<polygon points="357.30,467.80 358.88,472.52 363.86,472.57 359.86,475.53 361.35,480.28 357.30,477.40 353.24,480.28 354.73,475.53 350.73,472.57 355.71,472.52" fill="#74641a" stroke="#655310" stroke-width="0.5" stroke-linejoin="miter"/><circle cx="357.20" cy="474.90" r="3.95" fill="#bebe3e" stroke="#655310" stroke-width="0.6"/>
<text class="k" transform="matrix(1 0.0004 0 1 363.90 477.80)">4:53am</text>
<polygon points="433.88,467.80 435.47,472.52 440.44,472.57 436.45,475.53 437.94,480.28 433.88,477.40 429.83,480.28 431.31,475.53 427.32,472.57 432.29,472.52" fill="#74641a" stroke="#655310" stroke-width="0.5" stroke-linejoin="miter"/><circle cx="433.78" cy="474.90" r="3.95" fill="#bebe3e" stroke="#655310" stroke-width="0.6"/>
<text class="k" transform="matrix(1 0.0004 0 1 440.48 477.80)">4:54am</text>
<polygon points="510.41,467.80 512.00,472.52 516.97,472.57 512.98,475.53 514.47,480.28 510.41,477.40 506.36,480.28 507.84,475.53 503.85,472.57 508.83,472.52" fill="#74641a" stroke="#655310" stroke-width="0.5" stroke-linejoin="miter"/><circle cx="510.31" cy="474.90" r="3.95" fill="#bebe3e" stroke="#655310" stroke-width="0.6"/>
<text class="k" transform="matrix(1 0.0004 0 1 517.01 477.80)">4:54am</text>
<polygon points="587.00,467.80 588.58,472.52 593.56,472.57 589.56,475.53 591.05,480.28 587.00,477.40 582.94,480.28 584.43,475.53 580.43,472.57 585.41,472.52" fill="#74641a" stroke="#655310" stroke-width="0.5" stroke-linejoin="miter"/><circle cx="586.90" cy="474.90" r="3.95" fill="#bebe3e" stroke="#655310" stroke-width="0.6"/>
<text class="k" transform="matrix(1 0.0004 0 1 593.60 477.80)">4:55am</text>
<polygon points="663.53,467.80 665.11,472.52 670.09,472.57 666.10,475.53 667.58,480.28 663.53,477.40 659.47,480.28 660.96,475.53 656.97,472.57 661.94,472.52" fill="#74641a" stroke="#655310" stroke-width="0.5" stroke-linejoin="miter"/><circle cx="663.43" cy="474.90" r="3.95" fill="#bebe3e" stroke="#655310" stroke-width="0.6"/>
<text class="k" transform="matrix(1 0.0004 0 1 670.13 477.80)">4:55am</text>
<polygon points="96.67,481.60 98.25,486.32 103.23,486.37 99.23,489.33 100.72,494.08 96.67,491.20 92.61,494.08 94.10,489.33 90.10,486.37 95.08,486.32" fill="#745018" stroke="#655310" stroke-width="0.5" stroke-linejoin="miter"/><circle cx="96.57" cy="488.70" r="3.95" fill="#da4242" stroke="#655310" stroke-width="0.6"/>
<text class="k" transform="matrix(1 0.0004 0 1 103.27 492.50)">7:09pm</text>
<polygon points="173.25,481.60 174.84,486.32 179.81,486.37 175.82,489.33 177.31,494.08 173.25,491.20 169.19,494.08 170.68,489.33 166.69,486.37 171.66,486.32" fill="#745018" stroke="#655310" stroke-width="0.5" stroke-linejoin="miter"/><circle cx="173.15" cy="488.70" r="3.95" fill="#da4242" stroke="#655310" stroke-width="0.6"/>
<text class="k" transform="matrix(1 0.0004 0 1 179.85 492.50)">7:10pm</text>
<polygon points="249.83,481.60 251.42,486.32 256.40,486.37 252.40,489.33 253.89,494.08 249.83,491.20 245.78,494.08 247.27,489.33 243.27,486.37 248.25,486.32" fill="#745018" stroke="#655310" stroke-width="0.5" stroke-linejoin="miter"/><circle cx="249.73" cy="488.70" r="3.95" fill="#da4242" stroke="#655310" stroke-width="0.6"/>
<text class="k" transform="matrix(1 0.0004 0 1 256.43 492.50)">7:11pm</text>
<polygon points="326.37,481.60 327.95,486.32 332.93,486.37 328.93,489.33 330.42,494.08 326.37,491.20 322.31,494.08 323.80,489.33 319.80,486.37 324.78,486.32" fill="#745018" stroke="#655310" stroke-width="0.5" stroke-linejoin="miter"/><circle cx="326.27" cy="488.70" r="3.95" fill="#da4242" stroke="#655310" stroke-width="0.6"/>
<text class="k" transform="matrix(1 0.0004 0 1 332.97 492.50)">7:11pm</text>
<polygon points="402.95,481.60 404.54,486.32 409.51,486.37 405.52,489.33 407.01,494.08 402.95,491.20 398.89,494.08 400.38,489.33 396.39,486.37 401.36,486.32" fill="#745018" stroke="#655310" stroke-width="0.5" stroke-linejoin="miter"/><circle cx="402.85" cy="488.70" r="3.95" fill="#da4242" stroke="#655310" stroke-width="0.6"/>
<text class="k" transform="matrix(1 0.0004 0 1 409.55 492.50)">7:12pm</text>
<polygon points="479.48,481.60 481.07,486.32 486.04,486.37 482.05,489.33 483.54,494.08 479.48,491.20 475.43,494.08 476.91,489.33 472.92,486.37 477.89,486.32" fill="#745018" stroke="#655310" stroke-width="0.5" stroke-linejoin="miter"/><circle cx="479.38" cy="488.70" r="3.95" fill="#da4242" stroke="#655310" stroke-width="0.6"/>
<text class="k" transform="matrix(1 0.0004 0 1 486.08 492.50)">7:12pm</text>
<polygon points="556.07,481.60 557.65,486.32 562.63,486.37 558.63,489.33 560.12,494.08 556.07,491.20 552.01,494.08 553.50,489.33 549.50,486.37 554.48,486.32" fill="#745018" stroke="#655310" stroke-width="0.5" stroke-linejoin="miter"/><circle cx="555.97" cy="488.70" r="3.95" fill="#da4242" stroke="#655310" stroke-width="0.6"/>
<text class="k" transform="matrix(1 0.0004 0 1 562.67 492.50)">7:13pm</text>
<polygon points="632.65,481.60 634.24,486.32 639.21,486.37 635.22,489.33 636.71,494.08 632.65,491.20 628.59,494.08 630.08,489.33 626.09,486.37 631.06,486.32" fill="#745018" stroke="#655310" stroke-width="0.5" stroke-linejoin="miter"/><circle cx="632.55" cy="488.70" r="3.95" fill="#da4242" stroke="#655310" stroke-width="0.6"/>
<text class="k" transform="matrix(1 0.0004 0 1 639.25 492.50)">7:14pm</text>
<circle cx="113.09" cy="501.8" r="5.0" fill="#ffffc0" stroke="#8c8c84" stroke-width="0.9"/>
<text class="k" transform="matrix(1 0.0004 0 1 120.59 505.50)">12:18am</text>
<circle cx="191.37" cy="501.8" r="5.0" fill="#ffffc0" stroke="#8c8c84" stroke-width="0.9"/>
<text class="k" transform="matrix(1 0.0004 0 1 198.87 505.50)">12:51am</text>
<circle cx="269.71" cy="501.8" r="5.0" fill="#ffffc0" stroke="#8c8c84" stroke-width="0.9"/>
<text class="k" transform="matrix(1 0.0004 0 1 276.41 505.50)">1:25am</text>
<circle cx="348.21" cy="501.8" r="5.0" fill="#ffffc0" stroke="#8c8c84" stroke-width="0.9"/>
<text class="k" transform="matrix(1 0.0004 0 1 354.91 505.50)">2:02am</text>
<circle cx="426.97" cy="501.8" r="5.0" fill="#ffffc0" stroke="#8c8c84" stroke-width="0.9"/>
<text class="k" transform="matrix(1 0.0004 0 1 433.67 505.50)">2:44am</text>
<circle cx="505.95" cy="501.8" r="5.0" fill="#ffffc0" stroke="#8c8c84" stroke-width="0.9"/>
<text class="k" transform="matrix(1 0.0004 0 1 512.65 505.50)">3:30am</text>
<circle cx="585.24" cy="501.8" r="5.0" fill="#ffffc0" stroke="#8c8c84" stroke-width="0.9"/>
<text class="k" transform="matrix(1 0.0004 0 1 591.94 505.50)">4:22am</text>
<circle cx="664.80" cy="501.8" r="5.0" fill="#ffffc0" stroke="#8c8c84" stroke-width="0.9"/>
<text class="k" transform="matrix(1 0.0004 0 1 671.50 505.50)">5:19am</text>
<circle cx="73.49" cy="515.4" r="5.0" fill="#c2c2b8" stroke="#7c7c74" stroke-width="0.9"/>
<text class="k" transform="matrix(1 0.0004 0 1 81.09 519.50)">11:53am</text>
<circle cx="152.84" cy="515.4" r="5.0" fill="#c2c2b8" stroke="#7c7c74" stroke-width="0.9"/>
<text class="k" transform="matrix(1 0.0004 0 1 160.44 519.50)">12:46pm</text>
<circle cx="232.30" cy="515.4" r="5.0" fill="#c2c2b8" stroke="#7c7c74" stroke-width="0.9"/>
<text class="k" transform="matrix(1 0.0004 0 1 239.20 519.50)">1:41pm</text>
<circle cx="311.75" cy="515.4" r="5.0" fill="#c2c2b8" stroke="#7c7c74" stroke-width="0.9"/>
<text class="k" transform="matrix(1 0.0004 0 1 318.65 519.50)">2:36pm</text>
<circle cx="391.36" cy="515.4" r="5.0" fill="#c2c2b8" stroke="#7c7c74" stroke-width="0.9"/>
<text class="k" transform="matrix(1 0.0004 0 1 398.26 519.50)">3:34pm</text>
<circle cx="471.03" cy="515.4" r="5.0" fill="#c2c2b8" stroke="#7c7c74" stroke-width="0.9"/>
<text class="k" transform="matrix(1 0.0004 0 1 477.93 519.50)">4:33pm</text>
<circle cx="550.75" cy="515.4" r="5.0" fill="#c2c2b8" stroke="#7c7c74" stroke-width="0.9"/>
<text class="k" transform="matrix(1 0.0004 0 1 557.65 519.50)">5:33pm</text>
<circle cx="630.47" cy="515.4" r="5.0" fill="#c2c2b8" stroke="#7c7c74" stroke-width="0.9"/>
<text class="k" transform="matrix(1 0.0004 0 1 637.37 519.50)">6:33pm</text>
<text class="k" transform="matrix(1 0.0004 0 1 79.60 532.80)" text-anchor="end">Last Quarter</text><text class="k" transform="matrix(1 0.0004 0 1 82.20 532.80)">|</text><text class="k" transform="matrix(1 0.0004 0 1 85.80 532.80)">2:50pm</text>
<text class="k" transform="matrix(1 0.0004 0 1 656.20 532.80)" text-anchor="end">New Moon</text><text class="k" transform="matrix(1 0.0004 0 1 658.80 532.80)">|</text><text class="k" transform="matrix(1 0.0004 0 1 662.40 532.80)">3:35am</text>
</svg></body></html>
